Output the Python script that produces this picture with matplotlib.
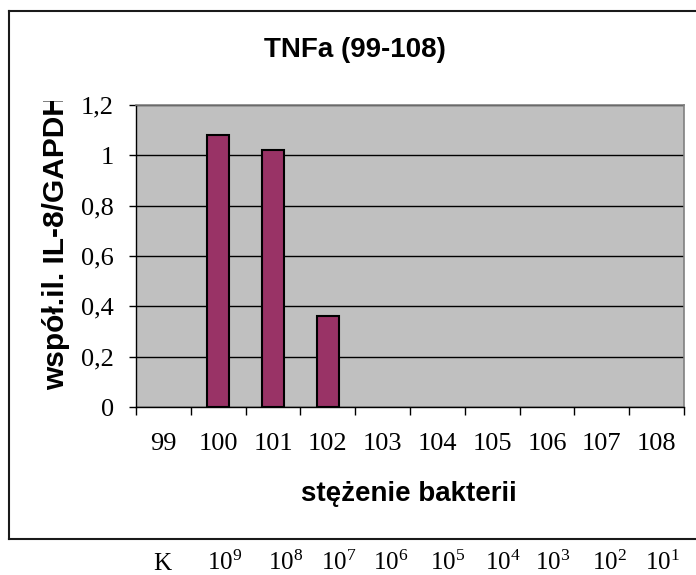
import matplotlib
matplotlib.use("Agg")
import matplotlib.pyplot as plt
from matplotlib.lines import Line2D
from matplotlib.transforms import Bbox, TransformedBbox
import numpy as np

# Data
categories = ["99", "100", "101", "102", "103", "104", "105", "106", "107", "108"]
values = [0, 1.08, 1.02, 0.36, 0, 0, 0, 0, 0, 0]
y_ticks = [0, 0.2, 0.4, 0.6, 0.8, 1.0, 1.2]
y_tick_labels = ["0", "0,2", "0,4", "0,6", "0,8", "1", "1,2"]
conc_labels = ["K", "10$^{9}$", "10$^{8}$", "10$^{7}$", "10$^{6}$",
               "10$^{5}$", "10$^{4}$", "10$^{3}$", "10$^{2}$", "10$^{1}$"]
conc_x_px = [153, 207, 268, 321, 373, 430, 485, 535, 592, 645]

title = "TNFa (99-108)"
x_label = "stężenie bakterii"
y_label = "współ.il. IL-8/GAPDH"

plt.rcParams["mathtext.fontset"] = "custom"
plt.rcParams["mathtext.rm"] = "Liberation Serif"
plt.rcParams["mathtext.it"] = "Liberation Serif:italic"

W, H = 696, 575
DPI = 100
fig = plt.figure(figsize=(W / DPI, H / DPI), dpi=DPI, facecolor="white")


def fx(px):
    return px / W


def fy(py):
    return 1 - py / H


# Outer chart frame (runs off the right edge)
frame_color = "#1a1a1a"
for xs, ys in [([9, 9], [11, 539]), ([9, 720], [11, 11]), ([9, 720], [539, 539])]:
    fig.add_artist(Line2D([fx(x) for x in xs], [fy(y) for y in ys],
                          color=frame_color, lw=1.5, transform=fig.transFigure))

# Plot area
left, right, top, bottom = 136, 684, 105, 407
ax = fig.add_axes([fx(left), fy(bottom), fx(right - left), (bottom - top) / H])
ax.set_facecolor("#c0c0c0")

x = np.arange(len(categories))
edges = ["black" if v > 0 else "none" for v in values]
ax.bar(x, values, width=0.4, color="#993366", edgecolor=edges, linewidth=1.5, zorder=3)

ax.set_xlim(-0.5, len(categories) - 0.5)
ax.set_ylim(0, 1.2)
ax.set_yticks(y_ticks)
ax.set_yticklabels(y_tick_labels)
ax.yaxis.grid(True, color="black", linewidth=1.0, zorder=1)
ax.set_axisbelow(True)

ax.set_xticks(x)
ax.set_xticklabels(categories)
ax.set_xticks(np.arange(-0.5, len(categories), 1.0), minor=True)
ax.tick_params(axis="x", which="major", length=0, pad=19)
ax.tick_params(axis="x", which="minor", length=6, width=1.0, direction="out")
ax.tick_params(axis="y", length=5, width=1.0, direction="out", pad=11)

for lbl in ax.get_xticklabels() + ax.get_yticklabels():
    lbl.set_fontfamily("Liberation Serif")
    lbl.set_fontsize(19)

for side in ["top", "right"]:
    ax.spines[side].set_color("#808080")
    ax.spines[side].set_linewidth(1.2)
for side in ["left", "bottom"]:
    ax.spines[side].set_color("black")
    ax.spines[side].set_linewidth(1.0)

# Titles
fig.text(fx(355), fy(57), title, ha="center", va="baseline",
         fontfamily="Liberation Sans", fontweight="bold", fontsize=20)
fig.text(fx(409), fy(501), x_label, ha="center", va="baseline",
         fontfamily="Liberation Sans", fontweight="bold", fontsize=20)

# Y-axis title, clipped at the top of its slot
ylab = fig.text(fx(64), fy(390), y_label, ha="left", va="baseline",
                rotation=90, rotation_mode="anchor",
                fontfamily="Liberation Sans", fontweight="bold", fontsize=21.5)
ylab.set_clip_box(TransformedBbox(Bbox([[0, 0], [1, fy(101)]]), fig.transFigure))
ylab.set_clip_on(True)

# Concentration labels under the frame
for lbl, px in zip(conc_labels, conc_x_px):
    fig.text(fx(px), fy(570), lbl, ha="left", va="baseline",
             fontfamily="Liberation Serif", fontsize=18)

fig.savefig("out.png", dpi=DPI, facecolor="white")
